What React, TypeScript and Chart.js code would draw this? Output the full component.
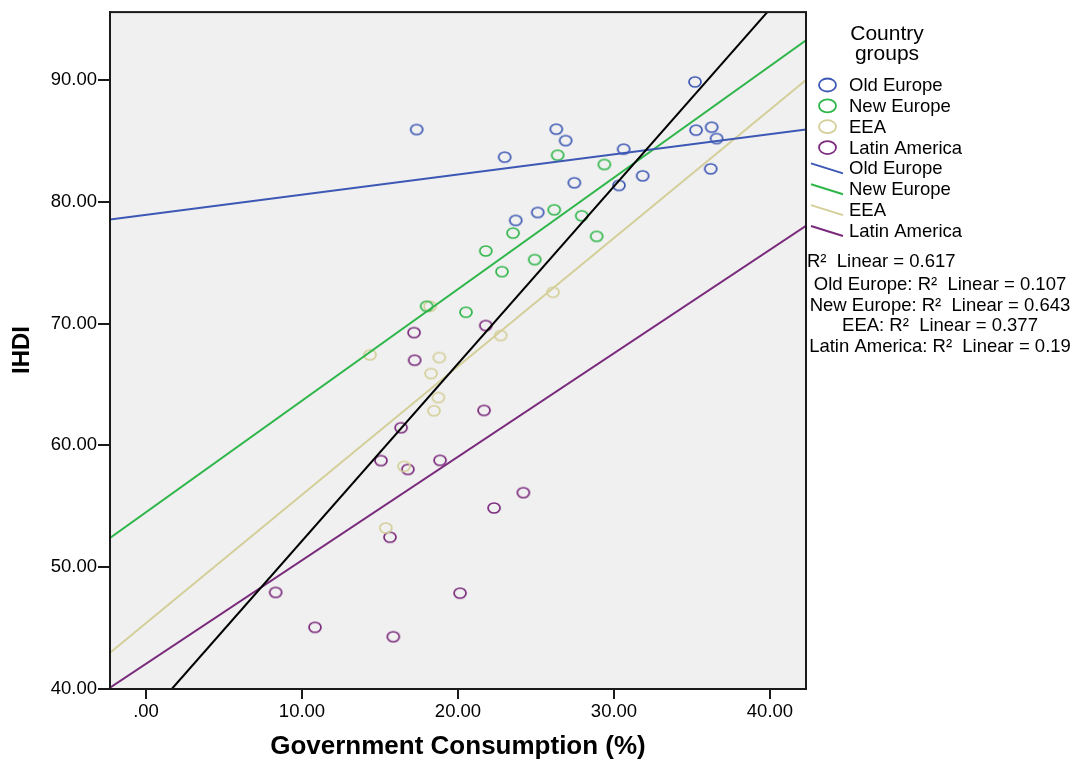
import React, { useEffect, useRef } from "react";
import { Chart, registerables } from "chart.js";

Chart.register(...registerables);

const groupNames = ["Old Europe", "New Europe", "EEA", "Latin America"];
const groupColors = ["#3d58b4", "#2fb64a", "#d4ce98", "#7a2a7c"];

const oldEuropeX = [17.35, 22.99, 26.3, 26.9, 23.7, 25.11, 27.46, 30.62, 30.32, 31.84, 35.19, 35.26, 36.26, 36.58, 36.2];
const oldEuropeY = [85.93, 83.66, 85.96, 85.02, 78.47, 79.12, 81.56, 84.32, 81.34, 82.13, 89.84, 85.88, 86.12, 85.19, 82.7];

const newEuropeX = [26.39, 29.38, 26.17, 27.93, 23.53, 21.78, 24.92, 22.82, 28.89, 20.51, 17.99];
const newEuropeY = [83.82, 83.06, 79.34, 78.85, 77.43, 75.96, 75.25, 74.26, 77.16, 70.93, 71.42];

const eeaX = [18.21, 14.36, 18.8, 18.27, 18.74, 18.46, 16.54, 15.37, 26.09, 22.74];
const eeaY = [71.42, 67.43, 67.21, 65.9, 63.93, 62.84, 58.28, 53.22, 72.57, 69.02];

const latinX = [17.18, 17.22, 16.35, 15.06, 16.79, 18.85, 15.64, 8.31, 10.83, 15.85, 20.13, 22.31, 24.19, 21.67, 21.78];
const latinY = [69.26, 66.99, 61.45, 58.75, 58.03, 58.77, 52.46, 47.93, 45.06, 44.29, 47.87, 54.86, 56.12, 62.87, 69.84];

// fit-line endpoints [x, y]
const fitOldEurope = [[-2.31, 78.55], [42.31, 85.93]];
const fitNewEurope = [[-2.31, 52.4], [42.31, 93.25]];
const fitEEA = [[-2.31, 42.98], [42.31, 90.0]];
const fitLatin = [[-2.31, 40.1], [42.31, 78.03]];
const fitTotal = [[1.65, 40.0], [39.83, 95.57]];

const xTicks = [0, 10, 20, 30, 40];
const yTicks = [40, 50, 60, 70, 80, 90];
const xMin = -2.31;
const xMax = 42.31;
const yMin = 40;
const yMax = 95.57;

const xTitle = "Government Consumption (%)";
const yTitle = "IHDI";
const legendTitle = ["Country", "groups"];
const r2Lines = [
  "R²  Linear = 0.617",
  "Old Europe: R²  Linear = 0.107",
  "New Europe: R²  Linear = 0.643",
  "EEA: R²  Linear = 0.377",
  "Latin America: R²  Linear = 0.19",
];

const FONT = "'Liberation Sans', Arial, sans-serif";

function makeEllipse(color: string, rx: number, ry: number, lw: number) {
  const c = document.createElement("canvas");
  const w = Math.ceil(rx * 2 + lw * 2);
  const h = Math.ceil(ry * 2 + lw * 2);
  c.width = w;
  c.height = h;
  const ctx = c.getContext("2d")!;
  ctx.strokeStyle = color;
  ctx.lineWidth = lw;
  ctx.beginPath();
  ctx.ellipse(w / 2, h / 2, rx, ry, 0, 0, Math.PI * 2);
  ctx.stroke();
  return c;
}

function toPoints(xs: number[], ys: number[]) {
  return xs.map((x, i) => ({ x, y: ys[i] }));
}

export default function App() {
  const ref = useRef<HTMLCanvasElement | null>(null);

  useEffect(() => {
    document.body.style.margin = "0";
    const canvas = ref.current!;
    const fits = [fitOldEurope, fitNewEurope, fitEEA, fitLatin];
    const groupsX = [oldEuropeX, newEuropeX, eeaX, latinX];
    const groupsY = [oldEuropeY, newEuropeY, eeaY, latinY];

    const lineSets: any[] = [
      {
        label: "Total",
        data: fitTotal.map((p) => ({ x: p[0], y: p[1] })),
        showLine: true,
        borderColor: "#000000",
        borderWidth: 2,
        pointRadius: 0,
        fill: false,
      },
      ...fits.map((f, i) => ({
        label: groupNames[i] + " fit",
        data: f.map((p) => ({ x: p[0], y: p[1] })),
        showLine: true,
        borderColor: groupColors[i],
        borderWidth: 2,
        pointRadius: 0,
        fill: false,
      })),
    ];
    const pointSets: any[] = groupNames.map((n, i) => ({
      label: n,
      data: toPoints(groupsX[i], groupsY[i]),
      showLine: false,
      pointStyle: makeEllipse(groupColors[i], 6, 5, 1.7),
      pointRadius: 6,
      borderColor: groupColors[i],
      backgroundColor: "transparent",
    }));

    const decor = {
      id: "decor",
      beforeDatasetsDraw(chart: any) {
        const { ctx, chartArea: a } = chart;
        ctx.save();
        ctx.fillStyle = "#f0f0f0";
        ctx.fillRect(a.left, a.top, a.right - a.left, a.bottom - a.top);
        ctx.restore();
      },
      afterDraw(chart: any) {
        const { ctx, chartArea: a } = chart;
        ctx.save();
        ctx.strokeStyle = "#1a1a1a";
        ctx.lineWidth = 2;
        ctx.strokeRect(a.left, a.top, a.right - a.left, a.bottom - a.top);

        ctx.fillStyle = "#000";
        // axis titles
        ctx.font = `bold 26px ${FONT}`;
        ctx.textAlign = "center";
        ctx.textBaseline = "middle";
        ctx.fillText(xTitle, (a.left + a.right) / 2, 747);
        ctx.font = `bold 24px ${FONT}`;
        ctx.save();
        ctx.translate(22, 350);
        ctx.rotate(-Math.PI / 2);
        ctx.fillText(yTitle, 0, 0);
        ctx.restore();

        // legend
        ctx.font = `21px ${FONT}`;
        ctx.textAlign = "center";
        ctx.fillText(legendTitle[0], 887, 34);
        ctx.fillText(legendTitle[1], 887, 54);
        ctx.font = `18.5px ${FONT}`;
        ctx.textAlign = "left";
        const rowY = (k: number) => 85 + k * 20.85;
        groupNames.forEach((n, i) => {
          const y = rowY(i);
          ctx.strokeStyle = groupColors[i];
          ctx.lineWidth = 1.8;
          ctx.beginPath();
          ctx.ellipse(827.5, y, 8.5, 6.5, 0, 0, Math.PI * 2);
          ctx.stroke();
          ctx.fillText(n, 849, y + 1);
        });
        groupNames.forEach((n, i) => {
          const y = rowY(i + 4);
          ctx.strokeStyle = groupColors[i];
          ctx.lineWidth = 2;
          ctx.beginPath();
          ctx.moveTo(811, y - 5);
          ctx.lineTo(843, y + 5);
          ctx.stroke();
          ctx.fillText(n, 849, y + 1);
        });
        // R² text
        const r2Y = [262, 285, 306, 326, 347];
        r2Lines.forEach((t, i) => {
          if (i === 0) {
            ctx.textAlign = "left";
            ctx.fillText(t, 807, r2Y[i]);
          } else {
            ctx.textAlign = "center";
            ctx.fillText(t, 940, r2Y[i]);
          }
        });
        ctx.restore();
      },
    };

    const chart = new Chart(canvas, {
      type: "scatter",
      data: { datasets: [...lineSets, ...pointSets] },
      options: {
        animation: false,
        responsive: false,
        maintainAspectRatio: false,
        layout: { padding: { left: 0, right: 272, top: 11, bottom: 0 } },
        plugins: { legend: { display: false }, tooltip: { enabled: false } },
        scales: {
          x: {
            type: "linear",
            min: xMin,
            max: xMax,
            afterBuildTicks: (s: any) => {
              s.ticks = xTicks.map((v) => ({ value: v }));
            },
            afterFit: (s: any) => {
              s.height = 71;
            },
            grid: {
              drawOnChartArea: false,
              drawTicks: true,
              tickLength: 10,
              color: "#1a1a1a",
              lineWidth: 2,
            },
            border: { display: true, color: "#1a1a1a", width: 2 },
            ticks: {
              padding: 2,
              color: "#000",
              font: { family: FONT, size: 18.5 },
              maxRotation: 0,
              callback: (v: any) => (Number(v) === 0 ? ".00" : Number(v).toFixed(2)),
            },
          },
          y: {
            type: "linear",
            min: yMin,
            max: yMax,
            afterBuildTicks: (s: any) => {
              s.ticks = yTicks.map((v) => ({ value: v }));
            },
            afterFit: (s: any) => {
              s.width = 110;
            },
            grid: {
              drawOnChartArea: false,
              drawTicks: true,
              tickLength: 12,
              color: "#1a1a1a",
              lineWidth: 2,
            },
            border: { display: true, color: "#1a1a1a", width: 2 },
            ticks: {
              padding: 1,
              color: "#000",
              font: { family: FONT, size: 18.5 },
              callback: (v: any) => Number(v).toFixed(2),
            },
          },
        },
      },
      plugins: [decor],
    } as any);

    return () => chart.destroy();
  }, []);

  return (
    <div style={{ width: 1078, height: 760, position: "relative", background: "#fff" }}>
      <canvas ref={ref} width={1078} height={760} style={{ width: 1078, height: 760, display: "block" }} />
    </div>
  );
}
